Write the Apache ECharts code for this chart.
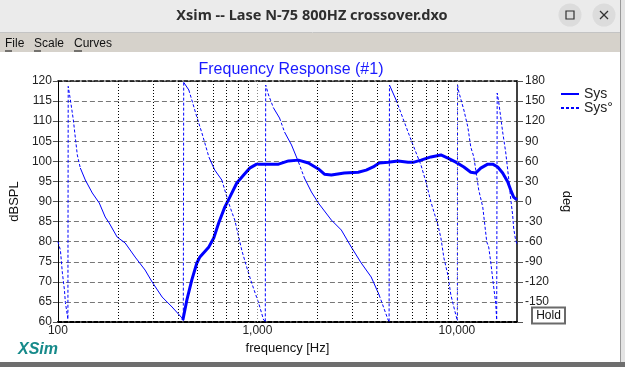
<!DOCTYPE html>
<html>
<head>
<meta charset="utf-8">
<script src="https://cdn.jsdelivr.net/npm/echarts@6/dist/echarts.min.js"></script>
<style>
html,body{margin:0;padding:0;background:#fff;}
#c{width:625px;height:367px;}
</style>
</head>
<body>
<div id="c"></div>
<script>
// ---- data ----
const MAG_HZ = [423,443,469,497,515,571,604,640,686,727,788,853,914,991,1137,1276,1431,1606,1801,2021,2166,2347,2725,3201,3510,3803,4075,4519,5069,5688,6093,6602,7407,8311,9008,9874,10830,11730,12430,13160,14270,15110,16010,16950,17960,18580,19240,20000];
const MAG_DB = [60.5,65.5,70.5,74.7,76.2,78.7,80.9,84.7,88.6,91.1,94.6,96.6,98.3,99.3,99.3,99.3,100.1,100.3,99.6,98.1,96.8,96.6,97.1,97.3,97.8,98.6,99.6,99.8,100.1,99.8,99.8,100.3,101.1,101.6,100.8,99.8,98.6,97.3,97.1,98.3,99.3,99.3,98.6,97.1,94.9,92.9,91.1,90.4];

const PHASE_HZ = [100,102.9,105.3,107.8,109,111.5,112.2,112.6,115.5,119.5,122.3,125.1,129.5,137.2,148.7,161.2,172.6,180.7,198.1,217.3,243.8,273.5,296.7,332.9,373.4,418.9,425,427,453,469,497,527,571,611,663,686,718,744,770,806,834,883,936,1014,1074,1095,1100,1137,1204,1291,1367,1482,1606,1720,1865,2021,2347,2633,2953,3313,3717,4075,4519,4570,4590,4955,5128,5688,6023,6602,6995,7407,8029,8311,8603,9008,9323,9874,10050,10070,10220,10830,11340,11730,12150,12860,13470,14110,14430,14770,15280,15640,15820,15870,15910,16190,16570,16950,17550,18160,18580,19020,19240,19680,20000];
const PHASE_DEG = [-60,-72.5,-107,-132,-151,-170,-176,172,151.6,121.7,94.8,69.4,50,32.1,12.7,-2.3,-23.2,-32.1,-53.1,-62,-83,-102.4,-120.3,-142.7,-157.6,-174,-178,178,166.6,151.6,126.2,102.3,66.5,47,32.1,17.2,-2.3,-15.7,-27.7,-53.1,-72.5,-97.9,-121.8,-151.7,-177,-179,174,159.1,139.7,124.7,103.8,84.4,59,35.1,14.2,-2.3,-27.7,-42.6,-68,-91.9,-112.8,-139.7,-177,-179,174,151.6,139.7,103.8,84.4,54.5,29.1,-0.8,-35.1,-54.5,-84.4,-109.8,-139.7,-169.6,-178,174,163.6,136.7,111.3,81.4,66.5,17.2,-8.2,-60.5,-68,-90.4,-127.8,-151.7,-177,-179,162,148.6,126.2,103.8,73.9,35.1,5.2,-20.2,-39.6,-57.5,-63.5];

const X_LABELS = [100, 1000, 10000];
const X_MAJOR_GRID = [1000, 10000];
const X_MINOR_GRID = [200,300,400,500,600,700,800,900,2000,3000,4000,5000,6000,7000,8000,9000];

const FONT = 'Liberation Sans';
const BLUE = '#0000ff';

// magnitude points
const magData = MAG_HZ.map((f, i) => [f, MAG_DB[i]]);

// split phase into gentle (solid) and steep (dashed) pieces, as XSim draws it
function phaseParts(steep) {
  const out = [];
  let lastEnd = -1;
  for (let i = 0; i < PHASE_HZ.length - 1; i++) {
    const dd = Math.abs(PHASE_DEG[i + 1] - PHASE_DEG[i]);
    const dl = Math.log10(PHASE_HZ[i + 1] / PHASE_HZ[i]);
    const isSteep = dd / dl > 750;
    if (isSteep !== steep) continue;
    if (lastEnd !== i) {
      if (out.length) out.push([PHASE_HZ[i], '-']);
      out.push([PHASE_HZ[i], PHASE_DEG[i]]);
    }
    out.push([PHASE_HZ[i + 1], PHASE_DEG[i + 1]]);
    lastEnd = i + 1;
  }
  return out;
}

const chart = echarts.init(document.getElementById('c'));

const gridMarks = {
  silent: true,
  symbol: 'none',
  label: {show: false},
  animation: false,
  data: X_MINOR_GRID.map(v => ({xAxis: v, lineStyle: {color: '#000', type: [1, 2], width: 1}}))
    .concat(X_MAJOR_GRID.map(v => ({xAxis: v, lineStyle: {color: '#888', type: [1, 2], width: 1}})))
};

const option = {
  animation: false,
  backgroundColor: '#ffffff',
  textStyle: {fontFamily: FONT},
  title: {
    text: 'Frequency Response (#1)',
    left: 286,
    top: 57,
    textAlign: 'center',
    textStyle: {color: '#1a1aff', fontSize: 16, fontWeight: 'normal', fontFamily: FONT}
  },
  legend: {
    orient: 'vertical',
    left: 555,
    top: 82,
    itemWidth: 18,
    itemHeight: 10,
    itemGap: 0,
    itemStyle: {opacity: 0},
    data: ['Sys', 'Sys°'],
    textStyle: {fontSize: 14, color: '#222', fontFamily: FONT}
  },
  grid: {left: 55, right: 108, top: 81, bottom: 45, containLabel: false},
  xAxis: [{
    type: 'log',
    logBase: 10,
    min: 100,
    max: 20000,
    name: 'frequency [Hz]',
    nameLocation: 'middle',
    nameGap: 17,
    nameTextStyle: {fontSize: 13, color: '#111', fontFamily: FONT},
    axisLine: {show: true, onZero: false, lineStyle: {color: '#000', width: 2, type: [4, 2]}},
    axisTick: {show: false},
    splitLine: {show: false},
    minorSplitLine: {show: false},
    axisLabel: {
      fontSize: 12, color: '#222', margin: 3, fontFamily: FONT,
      formatter: v => (X_LABELS.indexOf(Math.round(v)) >= 0 ? Math.round(v).toLocaleString('en-US') : '')
    }
  }, {
    type: 'log',
    logBase: 10,
    min: 100,
    max: 20000,
    position: 'top',
    axisLine: {show: true, onZero: false, lineStyle: {color: '#000', width: 1.5, type: [4, 2]}},
    axisTick: {show: false},
    axisLabel: {show: false},
    splitLine: {show: false}
  }],
  yAxis: [{
    type: 'value',
    min: 60,
    max: 120,
    interval: 5,
    position: 'left',
    name: 'dBSPL',
    nameLocation: 'middle',
    nameRotate: 90,
    nameGap: 33,
    nameTextStyle: {fontSize: 13, color: '#111', fontFamily: FONT},
    axisLine: {show: true, onZero: false, lineStyle: {color: '#000', width: 1}},
    axisTick: {show: true, length: 5, lineStyle: {color: '#555'}},
    axisLabel: {fontSize: 12, color: '#222', margin: 6, fontFamily: FONT},
    splitLine: {show: true, lineStyle: {color: '#777', type: [5, 3], width: 1}}
  }, {
    type: 'value',
    min: -180,
    max: 180,
    interval: 30,
    position: 'right',
    name: 'deg',
    nameLocation: 'middle',
    nameRotate: -90,
    nameGap: 31,
    nameTextStyle: {fontSize: 13, color: '#111', fontFamily: FONT},
    axisLine: {show: true, onZero: false, lineStyle: {color: '#000', width: 1.5}},
    axisTick: {show: true, length: 6, lineStyle: {color: '#555'}},
    axisLabel: {fontSize: 12, color: '#222', margin: 8, fontFamily: FONT,
      formatter: v => (v === -180 ? '' : String(v))},
    splitLine: {show: false}
  }],
  series: [{
    name: 'Sys°',
    type: 'line',
    xAxisIndex: 0,
    yAxisIndex: 1,
    symbol: 'none',
    connectNulls: false,
    data: phaseParts(true),
    lineStyle: {color: BLUE, width: 1, type: [3, 2]},
    itemStyle: {color: BLUE},
    markLine: gridMarks,
    z: 3
  }, {
    name: 'Sys°',
    type: 'line',
    xAxisIndex: 0,
    yAxisIndex: 1,
    symbol: 'none',
    connectNulls: false,
    data: phaseParts(false),
    lineStyle: {color: BLUE, width: 1},
    itemStyle: {color: BLUE},
    z: 3
  }, {
    name: 'Sys',
    type: 'line',
    xAxisIndex: 0,
    yAxisIndex: 0,
    symbol: 'none',
    data: magData,
    lineStyle: {color: BLUE, width: 3},
    itemStyle: {color: BLUE},
    z: 4
  }],
  graphic: [
    // window title bar
    {type: 'rect', shape: {x: 0, y: 0, width: 625, height: 32}, style: {fill: '#ebebeb'}, z: -10, silent: true},
    {type: 'line', shape: {x1: 0, y1: 32.5, x2: 625, y2: 32.5}, style: {stroke: '#c4c4c4', lineWidth: 1}, silent: true},
    {type: 'text', x: 312, y: 16, style: {text: 'Xsim -- Lase N-75 800HZ crossover.dxo', fill: '#2e2e2e', font: 'bold 14.5px "Noto Sans"', align: 'center', verticalAlign: 'middle'}, silent: true},
    {type: 'circle', shape: {cx: 570, cy: 15, r: 11.5}, style: {fill: '#dcdcdc'}, silent: true},
    {type: 'rect', shape: {x: 566, y: 11, width: 8, height: 8}, style: {fill: 'none', stroke: '#333', lineWidth: 1.2}, silent: true},
    {type: 'circle', shape: {cx: 604, cy: 15, r: 11.5}, style: {fill: '#dcdcdc'}, silent: true},
    {type: 'line', shape: {x1: 600, y1: 11, x2: 608, y2: 19}, style: {stroke: '#333', lineWidth: 1.3}, silent: true},
    {type: 'line', shape: {x1: 608, y1: 11, x2: 600, y2: 19}, style: {stroke: '#333', lineWidth: 1.3}, silent: true},
    // menu bar
    {type: 'rect', shape: {x: 0, y: 33, width: 625, height: 19}, style: {fill: '#d6d2cb'}, z: -10, silent: true},
    {type: 'text', x: 5, y: 44, style: {text: 'File', fill: '#111', font: '12px "Liberation Sans"', verticalAlign: 'middle'}, silent: true},
    {type: 'text', x: 34, y: 44, style: {text: 'Scale', fill: '#111', font: '12px "Liberation Sans"', verticalAlign: 'middle'}, silent: true},
    {type: 'text', x: 74, y: 44, style: {text: 'Curves', fill: '#111', font: '12px "Liberation Sans"', verticalAlign: 'middle'}, silent: true},
    {type: 'line', shape: {x1: 5, y1: 51, x2: 12, y2: 51}, style: {stroke: '#111', lineWidth: 1}, silent: true},
    {type: 'line', shape: {x1: 34, y1: 51, x2: 41, y2: 51}, style: {stroke: '#111', lineWidth: 1}, silent: true},
    {type: 'line', shape: {x1: 74, y1: 51, x2: 82, y2: 51}, style: {stroke: '#111', lineWidth: 1}, silent: true},
    // window edges
    {type: 'rect', shape: {x: 621, y: 0, width: 4, height: 367}, style: {fill: '#e4e4e4'}, silent: true},
    {type: 'line', shape: {x1: 620.5, y1: 0, x2: 620.5, y2: 367}, style: {stroke: '#9a9a9a', lineWidth: 1}, silent: true},
    {type: 'rect', shape: {x: 0, y: 362, width: 625, height: 5}, style: {fill: '#6e6e6e'}, silent: true},
    // XSim logo text
    {type: 'text', x: 18, y: 350, style: {text: 'XSim', fill: '#168a8a', font: 'italic bold 16px "Liberation Sans"', verticalAlign: 'middle'}, silent: true},
    // Hold button
    {type: 'rect', shape: {x: 532, y: 307.5, width: 33, height: 16}, style: {fill: '#fff', stroke: '#6a6a6a', lineWidth: 2}, silent: true},
    {type: 'text', x: 548.5, y: 316, style: {text: 'Hold', fill: '#111', font: '12px "Liberation Sans"', align: 'center', verticalAlign: 'middle'}, silent: true}
  ]
};

chart.setOption(option);
</script>
</body>
</html>
